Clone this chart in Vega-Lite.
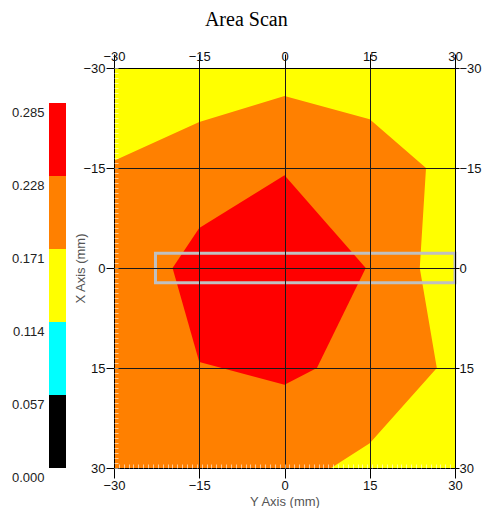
{
  "$schema": "https://vega.github.io/schema/vega-lite/v6.json",
  "background": "#ffffff",
  "padding": {"left": 11, "top": 10, "right": 0, "bottom": 0},
  "title": {"text": "Area Scan", "font": "Liberation Serif", "fontSize": 20, "fontWeight": "normal", "color": "#000000", "anchor": "middle", "offset": 20},
  "bounds": "flush",
  "spacing": 48,
  "datasets": {
    "legend": [
      {"band": "0.000-0.057", "lo": 0.0, "hi": 0.057},
      {"band": "0.057-0.114", "lo": 0.057, "hi": 0.114},
      {"band": "0.114-0.171", "lo": 0.114, "hi": 0.171},
      {"band": "0.171-0.228", "lo": 0.171, "hi": 0.228},
      {"band": "0.228-0.285", "lo": 0.228, "hi": 0.285}
    ],
    "contours": [
      {"band": "0.171-0.228", "ord": 1, "x": -30, "y": 30},
      {"band": "0.171-0.228", "ord": 2, "x": -30, "y": -16.1},
      {"band": "0.171-0.228", "ord": 3, "x": -15, "y": -21.9},
      {"band": "0.171-0.228", "ord": 4, "x": 0, "y": -25.8},
      {"band": "0.171-0.228", "ord": 5, "x": 15, "y": -22.3},
      {"band": "0.171-0.228", "ord": 6, "x": 24.9, "y": -15},
      {"band": "0.171-0.228", "ord": 7, "x": 23.8, "y": 0},
      {"band": "0.171-0.228", "ord": 8, "x": 26.8, "y": 15},
      {"band": "0.171-0.228", "ord": 9, "x": 15, "y": 26.3},
      {"band": "0.171-0.228", "ord": 10, "x": 8.2, "y": 30},
      {"band": "0.228-0.285", "ord": 11, "x": 0, "y": -13.9},
      {"band": "0.228-0.285", "ord": 12, "x": -15, "y": -6},
      {"band": "0.228-0.285", "ord": 13, "x": -19.7, "y": 0},
      {"band": "0.228-0.285", "ord": 14, "x": -15, "y": 14.1},
      {"band": "0.228-0.285", "ord": 15, "x": 0, "y": 17.5},
      {"band": "0.228-0.285", "ord": 16, "x": 5.7, "y": 15},
      {"band": "0.228-0.285", "ord": 17, "x": 14.3, "y": 0}
    ],
    "roi": [
      {"x1": -22.7, "x2": 30, "y1": -2.2, "y2": 2.2}
    ]
  },
  "hconcat": [
    {
      "width": 17,
      "height": 400,
      "data": {"name": "legend"},
      "mark": {"type": "rect"},
      "encoding": {
        "y": {
          "field": "lo", "type": "quantitative",
          "scale": {"domain": [0, 0.3123], "nice": false, "zero": false},
          "axis": {"orient": "left", "values": [0, 0.057, 0.114, 0.171, 0.228, 0.285], "format": ".3f", "title": null, "domain": false, "ticks": false, "grid": false, "labelPadding": 5, "labelOffset": 9.5, "labelFont": "Liberation Sans", "labelFontSize": 13, "labelColor": "#222222", "labelOverlap": false, "labelFlush": false, "labelBound": false}
        },
        "y2": {"field": "hi"},
        "color": {
          "field": "band", "type": "nominal",
          "scale": {"domain": ["0.000-0.057", "0.057-0.114", "0.114-0.171", "0.171-0.228", "0.228-0.285"], "range": ["#000000", "#00ffff", "#ffff00", "#ff8000", "#ff0000"]},
          "legend": null
        }
      }
    },
    {
      "width": 341,
      "height": 400,
      "view": {"fill": "#ffff00", "stroke": null},
      "resolve": {"axis": {"x": "independent", "y": "independent"}},
      "layer": [
        {
          "data": {"name": "contours"},
          "transform": [{"filter": "datum.band === '0.171-0.228'"}],
          "mark": {"type": "line", "filled": true, "strokeWidth": 0, "interpolate": "linear"},
          "encoding": {
            "x": {"field": "x", "type": "quantitative", "scale": {"domain": [-30, 30], "nice": false, "zero": false},
              "axis": {"orient": "bottom", "title": "Y Axis (mm)", "values": [-30, -15, 0, 15, 30], "grid": true, "gridColor": "#1a1a1a", "gridOpacity": 1, "gridWidth": 1, "tickSize": 10, "labelPadding": 1, "titlePadding": 3, "zindex": 1}},
            "y": {"field": "y", "type": "quantitative", "scale": {"domain": [-30, 30], "reverse": true, "nice": false, "zero": false},
              "axis": {"orient": "left", "title": "X Axis (mm)", "values": [-30, -15, 0, 15, 30], "grid": true, "gridColor": "#1a1a1a", "gridOpacity": 1, "gridWidth": 1, "tickSize": 8, "labelPadding": 1, "titlePadding": -5, "zindex": 1}},
            "order": {"field": "ord", "type": "quantitative"},
            "color": {"field": "band", "type": "nominal", "scale": {"domain": ["0.000-0.057", "0.057-0.114", "0.114-0.171", "0.171-0.228", "0.228-0.285"], "range": ["#000000", "#00ffff", "#ffff00", "#ff8000", "#ff0000"]}, "legend": null}
          }
        },
        {
          "data": {"name": "contours"},
          "transform": [{"filter": "datum.band === '0.228-0.285'"}],
          "mark": {"type": "line", "filled": true, "strokeWidth": 0, "interpolate": "linear"},
          "encoding": {
            "x": {"field": "x", "type": "quantitative",
              "axis": {"orient": "top", "title": null, "values": [-30, -15, 0, 15, 30], "grid": false, "tickSize": 14, "labelPadding": -9, "zindex": 1}},
            "y": {"field": "y", "type": "quantitative",
              "axis": {"orient": "right", "title": null, "values": [-30, -15, 0, 15, 30], "grid": false, "tickSize": 4, "labelPadding": 0, "zindex": 1}},
            "order": {"field": "ord", "type": "quantitative"},
            "color": {"field": "band", "type": "nominal", "legend": null}
          }
        },
        {
          "data": {"name": "roi"},
          "mark": {"type": "rect", "filled": false, "stroke": "#c0c0c0", "strokeWidth": 3},
          "encoding": {
            "x": {"field": "x1", "type": "quantitative",
              "axis": {"orient": "top", "offset": -400, "title": null, "labels": false, "domain": false, "grid": false, "tickSize": 4, "tickColor": "#ffffff", "tickOpacity": 0.6, "zindex": 1,
                "values": [-30, -29.14, -28.29, -27.43, -26.57, -25.71, -24.86, -24, -23.14, -22.29, -21.43, -20.57, -19.71, -18.86, -18, -17.14, -16.29, -15.43, -14.57, -13.71, -12.86, -12, -11.14, -10.29, -9.43, -8.57, -7.71, -6.86, -6, -5.14, -4.29, -3.43, -2.57, -1.71, -0.86, 0, 0.86, 1.71, 2.57, 3.43, 4.29, 5.14, 6, 6.86, 7.71, 8.57, 9.43, 10.29, 11.14, 12, 12.86, 13.71, 14.57, 15.43, 16.29, 17.14, 18, 18.86, 19.71, 20.57, 21.43, 22.29, 23.14, 24, 24.86, 25.71, 26.57, 27.43, 28.29, 29.14, 30]}},
            "x2": {"field": "x2"},
            "y": {"field": "y1", "type": "quantitative",
              "axis": {"orient": "right", "offset": -341, "title": null, "labels": false, "domain": false, "grid": false, "tickSize": 4, "tickColor": "#ffffff", "tickOpacity": 0.6, "zindex": 1,
                "values": [-30, -29.25, -28.5, -27.75, -27, -26.25, -25.5, -24.75, -24, -23.25, -22.5, -21.75, -21, -20.25, -19.5, -18.75, -18, -17.25, -16.5, -15.75, -15, -14.25, -13.5, -12.75, -12, -11.25, -10.5, -9.75, -9, -8.25, -7.5, -6.75, -6, -5.25, -4.5, -3.75, -3, -2.25, -1.5, -0.75, 0, 0.75, 1.5, 2.25, 3, 3.75, 4.5, 5.25, 6, 6.75, 7.5, 8.25, 9, 9.75, 10.5, 11.25, 12, 12.75, 13.5, 14.25, 15, 15.75, 16.5, 17.25, 18, 18.75, 19.5, 20.25, 21, 21.75, 22.5, 23.25, 24, 24.75, 25.5, 26.25, 27, 27.75, 28.5, 29.25, 30]}},
            "y2": {"field": "y2"}
          }
        }
      ]
    }
  ],
  "config": {
    "view": {"stroke": null},
    "axis": {
      "labelFont": "Liberation Sans", "labelFontSize": 13, "labelColor": "#111111",
      "labelOverlap": false, "labelFlush": false, "labelBound": false,
      "tickColor": "#000000", "tickWidth": 1, "domainColor": "#000000", "domainWidth": 1,
      "titleFont": "Liberation Sans", "titleFontSize": 13, "titleFontWeight": "normal", "titleColor": "#555555"
    }
  }
}
